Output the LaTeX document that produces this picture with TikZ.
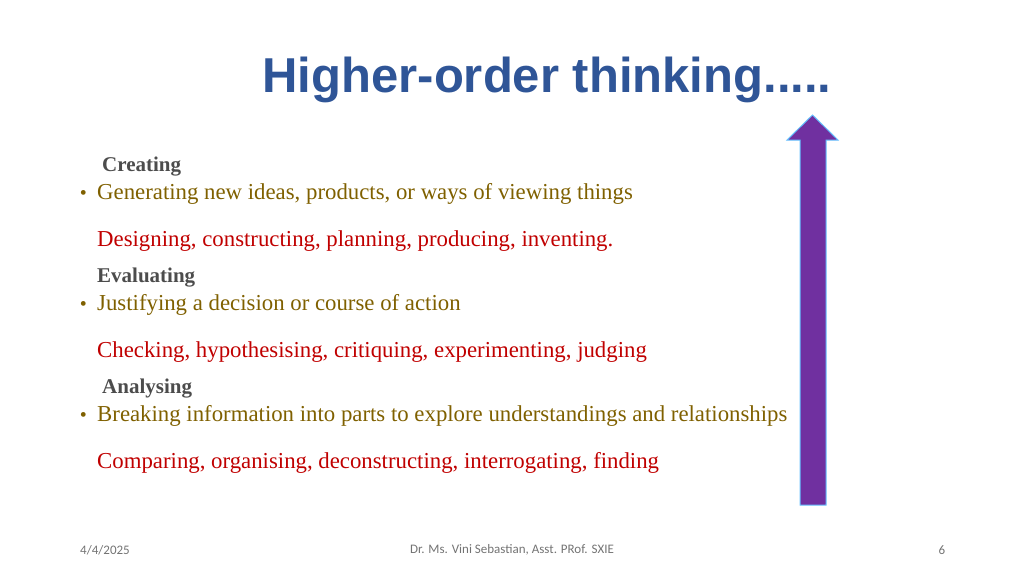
\documentclass[tikz,border=0pt]{standalone}
\usepackage{fontspec}
\setmainfont{Liberation Serif}
\newfontfamily\titlefont{Liberation Sans}
\newfontfamily\footfont{Carlito}
\definecolor{tblue}{HTML}{2F5597}
\definecolor{ttext}{HTML}{7F6000}
\definecolor{tred}{HTML}{C00000}
\definecolor{tpurp}{HTML}{7030A0}
\begin{document}
\begin{tikzpicture}[x=1pt,y=-1pt,inner sep=0pt,
  head/.style={anchor=base west,font=\bfseries\fontsize{21}{24}\selectfont,text=black!70},
  bul/.style={anchor=base west,font=\fontsize{22.8}{26}\selectfont,text=ttext},
  dot/.style={anchor=base east,font=\fontsize{20}{24}\selectfont,text=ttext},
  ex/.style={anchor=base west,font=\fontsize{22.8}{26}\selectfont,text=tred},
  foot/.style={font=\footfont\fontsize{13}{15}\selectfont,text=black!55}]
\useasboundingbox (0,0) rectangle (1024,576);
\node[text=tblue,draw=none,font=\titlefont\bfseries\fontsize{49}{55}\selectfont] (title) at (547,80) {Higher-order thinking.....};
\node[head] (h1) at (102,171) {Creating};
\node[bul] (b1) at (97,199) {Generating new ideas, products, or ways of viewing things};
\node[dot] (d1) at (87,199) {•};
\node[ex] (e1) at (97,246) {Designing, constructing, planning, producing, inventing.};
\node[head] (h2) at (97,282) {Evaluating};
\node[bul] (b2) at (97,310) {Justifying a decision or course of action};
\node[dot] (d2) at (87,310) {•};
\node[ex] (e2) at (97,357) {Checking, hypothesising, critiquing, experimenting, judging};
\node[head] (h3) at (102,393) {Analysing};
\node[bul] (b3) at (97,421) {Breaking information into parts to explore understandings and relationships};
\node[dot] (d3) at (87,421) {•};
\node[ex] (e3) at (97,468) {Comparing, organising, deconstructing, interrogating, finding};
\draw[fill=tpurp,draw=blue!40!cyan!60,line width=1pt] (800,505) -- (800,140) -- (787,140) -- (812.5,115) -- (838,140) -- (826,140) -- (826,505) -- cycle;
\node[foot] (f1) at (105,550) {4/4/2025};
\node[foot] (f2) at (512,550) {Dr. Ms. Vini Sebastian, Asst. PRof. SXIE};
\node[foot] (f3) at (942,550) {6};
\end{tikzpicture}
\end{document}
